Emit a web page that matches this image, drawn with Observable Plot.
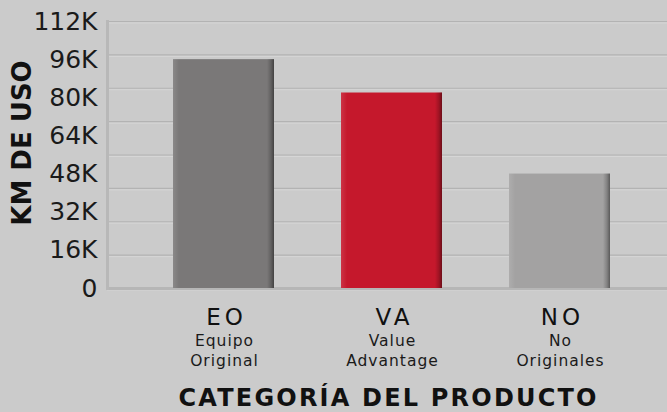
<!DOCTYPE html>
<html>
<head>
<meta charset="utf-8">
<script src="https://cdn.jsdelivr.net/npm/d3@7"></script>
<script src="https://cdn.jsdelivr.net/npm/@observablehq/plot@0.6"></script>
<style>
  html, body { margin: 0; padding: 0; background: #cbcbcb; }
  #chart { width: 667px; height: 412px; overflow: hidden; }
</style>
</head>
<body>
<div id="chart"></div>
<script>
const categories = ["EO", "VA", "NO"];
const descriptions = ["Equipo\nOriginal", "Value\nAdvantage", "No\nOriginales"];
const values = [96000, 82000, 48000];
const barColors = ["#7a7878", "#c5182c", "#a3a2a2"];
const yTicks = [0, 16000, 32000, 48000, 64000, 80000, 96000, 112000];
const gridLines = [0, 14000, 28000, 42000, 56000, 70000, 84000, 98000, 112000];
const yTitle = "KM DE USO";
const xTitle = "CATEGORÍA DEL PRODUCTO";

const data = categories.map((c, i) => ({cat: c, desc: descriptions[i], value: values[i], color: barColors[i]}));

const font = "'DejaVu Sans', sans-serif";

const chart = Plot.plot({
  width: 667,
  height: 412,
  marginTop: 21,
  marginBottom: 124,
  marginLeft: 107,
  marginRight: 0,
  style: {background: "#cbcbcb", color: "#111", fontFamily: font},
  x: {domain: categories, paddingInner: 0.4, paddingOuter: 0.357, align: 0.535, axis: null},
  y: {domain: [0, 112000], axis: null},
  color: {type: "identity"},
  marks: [
    Plot.ruleY(gridLines, {stroke: "#b3b3b3", strokeWidth: 1.2}),
    Plot.ruleY(gridLines, {stroke: "#d8d8d8", strokeWidth: 0.8, dy: 1.5}),
    Plot.ruleY([0], {stroke: "#b6b6b6", strokeWidth: 3}),
    Plot.frame({anchor: "left", stroke: "#b8b8b8", strokeWidth: 3}),
    Plot.axisY(yTicks, {
      tickSize: 0, tickPadding: 10, label: null,
      tickFormat: d => d === 0 ? "0" : (d / 1000) + "K",
      fontSize: 25, fontWeight: 400, fill: "#1a1a1a"
    }),
    Plot.barY(data, {x: "cat", y: "value", fill: "color"}),
    Plot.barY(data, {x: "cat", y: "value", fill: "url(#barShade)"}),
    Plot.ruleY(data, {x: "cat", y: "value", stroke: "#e4e4e4", strokeOpacity: 0.75, strokeWidth: 3, dy: -1}),
    Plot.text(data, {x: "cat", text: "cat", frameAnchor: "bottom", dy: 36, dx: 2.5, lineAnchor: "bottom",
      fontSize: 23, fontWeight: 400, fill: "#111"}),
    Plot.text(data, {x: "cat", text: "desc", frameAnchor: "bottom", dy: 43, dx: 0.5, lineAnchor: "top",
      fontSize: 15.5, fontWeight: 400, lineHeight: 1.3, fill: "#1a1a1a"}),
    Plot.text([xTitle], {text: d => d, frameAnchor: "bottom", dy: 117, dx: 1.1, lineAnchor: "bottom",
      fontSize: 24, fontWeight: 700, fill: "#111"}),
    Plot.text([yTitle], {text: d => d, frameAnchor: "left", textAnchor: "middle", rotate: -90, dx: -85, dy: -12,
      fontSize: 26, fontWeight: 700, fill: "#111"})
  ]
});

const svg = d3.select(chart);
const textGroups = svg.selectAll('g[aria-label="text"]').nodes();
const spacings = ["4px", "1px", "2.2px", "0px"];
textGroups.forEach((node, i) => {
  d3.select(node).selectAll("text").style("letter-spacing", spacings[i]);
});

const defs = svg.insert("defs", ":first-child");
const g = defs.append("linearGradient").attr("id", "barShade").attr("x1", 0).attr("x2", 1).attr("y1", 0).attr("y2", 0);
g.append("stop").attr("offset", "0%").attr("stop-color", "#ffffff").attr("stop-opacity", 0.12);
g.append("stop").attr("offset", "6%").attr("stop-color", "#ffffff").attr("stop-opacity", 0.0);
g.append("stop").attr("offset", "93%").attr("stop-color", "#000000").attr("stop-opacity", 0.0);
g.append("stop").attr("offset", "97%").attr("stop-color", "#000000").attr("stop-opacity", 0.2);
g.append("stop").attr("offset", "100%").attr("stop-color", "#000000").attr("stop-opacity", 0.45);

document.getElementById("chart").appendChild(chart);
</script>
</body>
</html>
